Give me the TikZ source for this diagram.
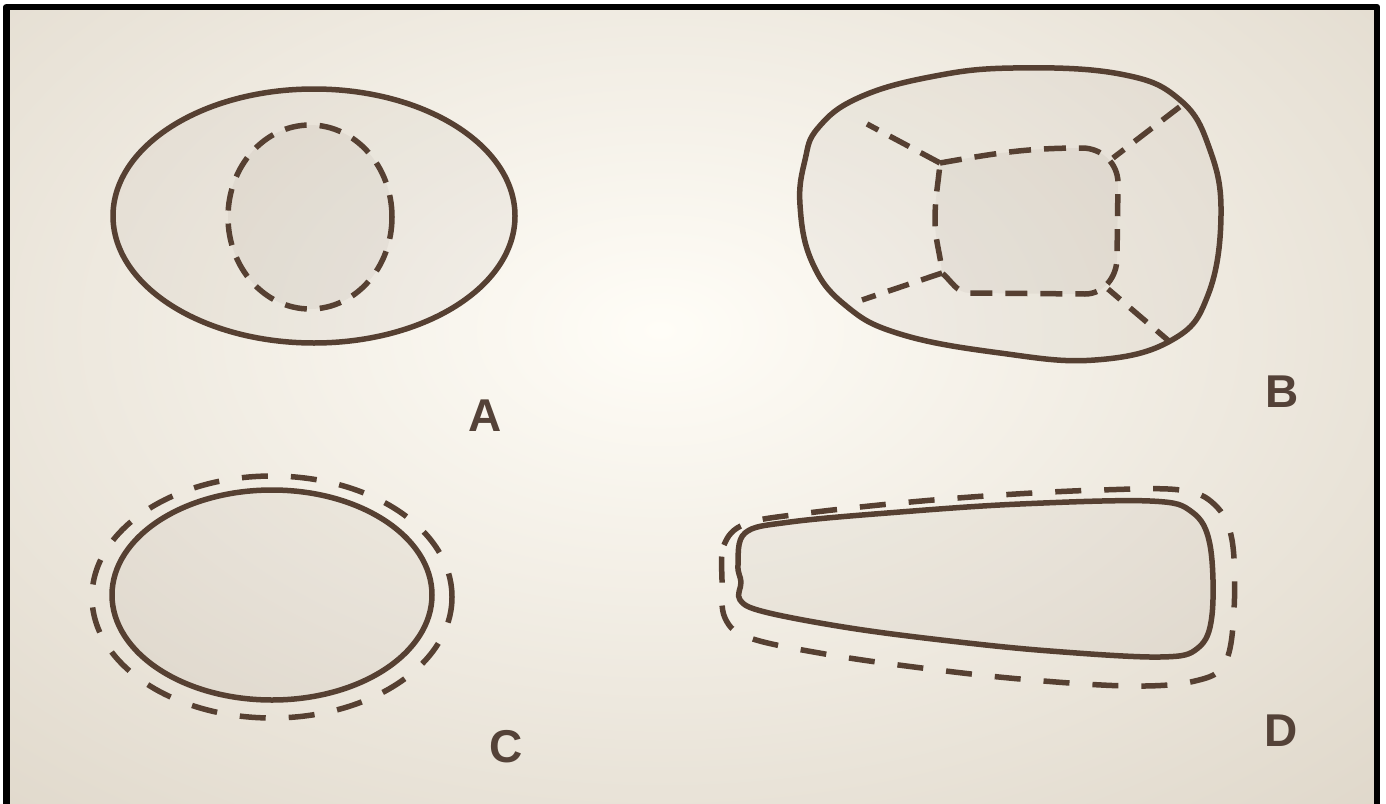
\documentclass[tikz,border=0pt]{standalone}
\usepackage{fontspec}
\setmainfont{Liberation Sans}
\begin{document}
\begin{tikzpicture}[x=1pt,y=-1pt,line join=round]
\definecolor{strokec}{RGB}{86,64,50}
\definecolor{textc}{RGB}{84,66,56}
\definecolor{bgc}{RGB}{255,253,247}
\definecolor{bge}{RGB}{216,207,192}
\tikzset{
  solidline/.style={draw=strokec,line width=5.5pt},
  dashline/.style={draw=strokec,line width=5.5pt,dash pattern=on 22pt off 13pt},
  longdash/.style={draw=strokec,line width=5.5pt,dash pattern=on 26pt off 23pt},
  shapefill/.style={fill=strokec,fill opacity=0.05},
  lab/.style={font=\fontsize{46}{46}\selectfont\bfseries,text=textc,inner sep=0pt}
}
\useasboundingbox (0,0) rectangle (1386,803);
\fill[white] (0,0) rectangle (1386,803);
\begin{scope}
  \clip (10,10) rectangle (1374,803);
  \fill[bge] (10,10) rectangle (1374,803);
  \shade[inner color=bgc,outer color=bge] (660,330) ellipse (1300 and 820);
\end{scope}
% frame
\draw[black,line width=6.5pt] (6.5,820) -- (6.5,7) -- (1377,7) -- (1377,820);

% ---------- A ----------
\path[shapefill,solidline] (314,216) ellipse (201 and 127);
\path[shapefill,dashline] (310,217) ellipse (82 and 92);
\node[lab] (labA) at (485,416) {A};

% ---------- B ----------
\path[shapefill,solidline] plot[smooth cycle,tension=0.7] coordinates {
  (818,128) (858,98) (930,77) (1013,68) (1120,74) (1180,100) (1210,150)
  (1221,215) (1208,295) (1172,340) (1095,360) (1000,353) (900,334)
  (845,305) (812,262) (800,205) (805,160)};
\coordinate (J1) at (940,163);
\coordinate (J2) at (942,273);
\path[shapefill,dashline] (J1) to[out=10,in=180] (1082,148) to[out=0,in=90] (1118,183)
  -- (1117,258) to[out=-90,in=0] (1085,294) -- (970,293) to[out=180,in=-40] (J2)
  to[out=95,in=-90] (935,220) to[out=90,in=-95] cycle;
\draw[dashline] (J1) -- (867,124);
\draw[dashline,dash phase=8pt] (1113,158) -- (1186,102);
\draw[dashline] (J2) -- (862,300);
\draw[dashline,dash phase=6pt] (1108,289) -- (1170,342);
\node[lab] (labB) at (1282,392) {B};

% ---------- C ----------
\path[shapefill,solidline] (272,595) ellipse (160 and 105);
\draw[longdash] (272,597) ellipse (180 and 121);
\node[lab] (labC) at (506,747) {C};

% ---------- D ----------
\path[shapefill,solidline] plot[smooth cycle,tension=0.6] coordinates {
  (738,565) (745,533) (790,522) (900,512) (1020,504) (1150,501)
  (1192,512) (1210,545) (1212,615) (1198,648) (1160,657) (1050,651)
  (950,641) (850,628) (765,612) (740,600) (741,582)};
\draw[longdash] plot[smooth cycle,tension=0.6] coordinates {
  (722,580) (724,545) (745,524) (800,514) (900,503) (1000,495)
  (1100,490) (1180,490) (1215,505) (1232,540) (1234,610) (1225,663)
  (1195,681) (1130,686) (1020,679) (914,667) (825,654) (750,638) (725,618)};
\node[lab] (labD) at (1281,731) {D};
\end{tikzpicture}
\end{document}
